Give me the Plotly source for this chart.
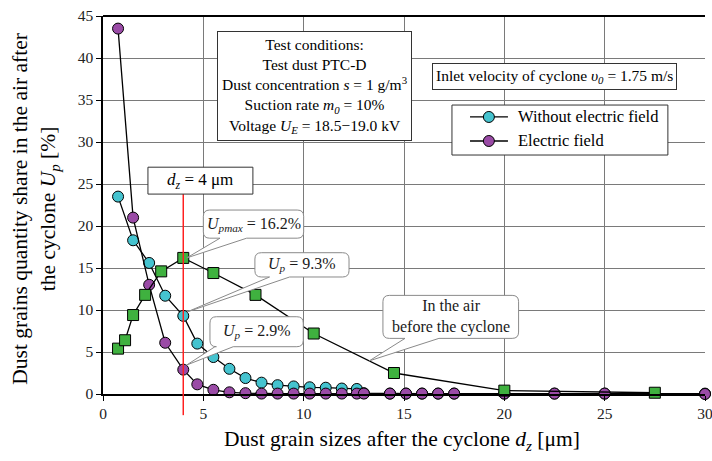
import numpy as np
import plotly.graph_objects as go

# Grain sizes d_z [µm] measured after the cyclone
sizes = [0.75, 1.5, 2.3, 3.1, 4.0, 4.7, 5.5, 6.3, 7.1, 7.9, 8.7, 9.5, 10.3,
         11.1, 11.9, 12.65, 13.0, 14.3, 15.1, 15.9, 16.7, 17.5, 20.0, 22.5, 25.0, 30.0]
# Share U_p [%] without electric field
without_field = [23.5, 18.3, 15.6, 11.7, 9.3, 6.0, 4.4, 3.0, 1.9, 1.35, 1.05, 0.9, 0.8,
                 0.75, 0.65, 0.6, 0.1, 0.05, 0.05, 0.05, 0.05, 0.05, 0.05, 0.05, 0.05, 0.05]
# Share U_p [%] with electric field
with_field = [43.5, 21.0, 13.0, 6.1, 2.9, 1.15, 0.5, 0.2, 0.1, 0.05, 0.05, 0.05, 0.05,
              0.05, 0.05, 0.05, 0.05, 0.05, 0.05, 0.05, 0.05, 0.05, 0.05, 0.05, 0.05, 0.0]
# Dust in the air before the cyclone
inlet_sizes = [0.75, 1.1, 1.5, 2.1, 2.9, 4.0, 5.5, 7.6, 10.5, 14.5, 20.0, 27.5]
inlet_share = [5.4, 6.4, 9.4, 11.8, 14.6, 16.2, 14.4, 11.8, 7.2, 2.5, 0.4, 0.15]

x_ticks = [0, 5, 10, 15, 20, 25, 30]
y_ticks = [0, 5, 10, 15, 20, 25, 30, 35, 40, 45]
d_marked = 4.0

FONT = "Liberation Serif, Times New Roman, serif"
CYAN = "#45C3CF"
PURPLE = "#9A4BA6"
GREEN = "#3FB13F"

series = [
    ("Without electric field", sizes, without_field, "circle", CYAN),
    ("Electric field", sizes, with_field, "circle", PURPLE),
    ("In the air before the cyclone", inlet_sizes, inlet_share, "square", GREEN),
]

fig = go.Figure()
for name, xs, ys, sym, col in series:
    fig.add_trace(go.Scatter(
        x=xs, y=ys, mode="lines+markers", name=name, showlegend=False,
        line=dict(color="black", width=1.3),
        marker=dict(symbol=sym, size=11, color=col, line=dict(color="black", width=1)),
        cliponaxis=False))


def callout_path(x0, x1, y0, y1, bx0, bx1, tx, ty, rx=0.32, ry=0.75):
    """Rounded box with a wedge pointer leaving from its bottom edge."""
    return (f"M{x0 + rx},{y0} L{bx0},{y0} L{tx},{ty} L{bx1},{y0} L{x1 - rx},{y0} "
            f"Q{x1},{y0} {x1},{y0 + ry} L{x1},{y1 - ry} Q{x1},{y1} {x1 - rx},{y1} "
            f"L{x0 + rx},{y1} Q{x0},{y1} {x0},{y1 - ry} L{x0},{y0 + ry} "
            f"Q{x0},{y0} {x0 + rx},{y0} Z")


i_max = int(np.argmax(inlet_share))
i_mark = sizes.index(d_marked)
up_max = inlet_share[i_max]
up_without = without_field[i_mark]
up_with = with_field[i_mark]

# pointer onto the inlet curve
t_x = 13.27
t_y = float(np.interp(t_x, inlet_sizes, inlet_share))

callouts = [
    # (box x0, x1, y0, y1, wedge base x0, x1, tip x, tip y, text)
    (5.0, 10.0, 18.55, 21.9, 5.83, 7.16, inlet_sizes[i_max] + 0.17, up_max,
     f"<i>U<sub>pmax</sub></i> = {up_max:.1f}%"),
    (7.57, 12.26, 13.93, 16.82, 8.3, 9.3, d_marked + 0.17, up_without + 0.45,
     f"<i>U<sub>p</sub></i> = {up_without:.1f}%"),
    (5.33, 9.98, 5.63, 9.2, 5.58, 6.49, d_marked + 0.17, up_with + 0.55,
     f"<i>U<sub>p</sub></i> = {up_with:.1f}%"),
    (13.95, 20.71, 6.62, 11.74, 15.05, 16.74, t_x, t_y,
     "In the air<br>before the cyclone"),
]

shapes = []
annotations = []
for x0, x1, y0, y1, bx0, bx1, tx, ty, txt in callouts:
    shapes.append(dict(type="path", xref="x", yref="y", layer="above",
                       path=callout_path(x0, x1, y0, y1, bx0, bx1, tx, ty),
                       line=dict(color="#8a8a8a", width=1), fillcolor="white"))
    annotations.append(dict(x=(x0 + x1) / 2, y=(y0 + y1) / 2, xref="x", yref="y",
                            xanchor="center", yanchor="middle",
                            text=txt, showarrow=False,
                            font=dict(family=FONT, size=16, color="#1a1a1a")))

# marker line at d_z = 4 µm and its label box
shapes.append(dict(type="line", xref="x", yref="paper", x0=d_marked, x1=d_marked,
                   y0=-0.056, y1=23.8 / 45, line=dict(color="#FF2020", width=1.5),
                   layer="above"))
shapes.append(dict(type="rect", xref="x", yref="y", x0=2.24, x1=7.47, y0=23.8, y1=27.0,
                   line=dict(color="#333333", width=1), fillcolor="white", layer="above"))
annotations.append(dict(x=(2.24 + 7.47) / 2, y=25.4, xref="x", yref="y",
                        xanchor="center", yanchor="middle",
                        text=f"<i>d<sub>z</sub></i> = {d_marked:g} μm", showarrow=False,
                        font=dict(family=FONT, size=17, color="black")))

# legend box drawn by hand: frame, line samples, marker samples, labels
leg_x0, leg_x1, leg_y0, leg_y1 = 17.39, 28.15, 28.45, 34.4
shapes.append(dict(type="rect", xref="x", yref="y", x0=leg_x0, x1=leg_x1,
                   y0=leg_y0, y1=leg_y1, line=dict(color="#333333", width=1),
                   fillcolor="white", layer="above"))
for (name, _, _, _, col), row_y in zip(series[:2], [32.98, 30.12]):
    shapes.append(dict(type="line", xref="x", yref="y", x0=18.29, x1=20.18,
                       y0=row_y, y1=row_y, line=dict(color="black", width=1.3),
                       layer="above"))
    shapes.append(dict(type="circle", xref="x", yref="y", xsizemode="pixel",
                       ysizemode="pixel", xanchor=19.23, yanchor=row_y,
                       x0=-5.5, x1=5.5, y0=-5.5, y1=5.5, fillcolor=col,
                       line=dict(color="black", width=1), layer="above"))
    annotations.append(dict(x=20.6, y=row_y, xref="x", yref="y", xanchor="left",
                            yanchor="middle", text=name, showarrow=False,
                            font=dict(family=FONT, size=16.5, color="black")))

# top frame line
shapes.append(dict(type="line", xref="paper", yref="paper", x0=0, x1=1, y0=1, y1=1,
                   line=dict(color="black", width=2), layer="above"))

annotations.append(dict(
    x=10.56, y=36.7, xref="x", yref="y", showarrow=False,
    xanchor="center", yanchor="middle",
    text=("Test conditions:<br>Test dust PTC-D<br>"
          "Dust concentration <i>s</i> = 1 g/m<sup>3</sup><br>"
          "Suction rate <i>m<sub>0</sub></i> = 10%<br>"
          "Voltage <i>U<sub>E</sub></i> = 18.5−19.0 kV"),
    font=dict(family=FONT, size=15.5, color="black"),
    bordercolor="#333333", borderwidth=1, borderpad=4, bgcolor="white"))
annotations.append(dict(
    x=22.52, y=37.74, xref="x", yref="y", showarrow=False,
    xanchor="center", yanchor="middle",
    text="Inlet velocity of cyclone <i>υ<sub>0</sub></i> = 1.75 m/s",
    font=dict(family=FONT, size=15.5, color="black"),
    bordercolor="#333333", borderwidth=1, borderpad=3, bgcolor="white"))

# axis titles
annotations.append(dict(
    x=-0.113, y=0.49, xref="paper", yref="paper", showarrow=False, textangle=-90,
    xanchor="center", yanchor="middle",
    text="Dust grains quantity share in the air after<br>the cyclone <i>U<sub>p</sub></i> [%]",
    font=dict(family=FONT, size=21.5, color="black")))
annotations.append(dict(
    x=0.497, y=-0.122, xref="paper", yref="paper", showarrow=False,
    xanchor="center", yanchor="middle",
    text="Dust grain sizes after the cyclone <i>d<sub>z</sub></i> [μm]",
    font=dict(family=FONT, size=21.5, color="black")))

fig.update_layout(
    width=712, height=461,
    margin=dict(l=103, r=7, t=16, b=67),
    paper_bgcolor="white", plot_bgcolor="white",
    font=dict(family=FONT, size=15, color="black"),
    shapes=shapes, annotations=annotations,
    showlegend=False,
)
axis_style = dict(ticks="outside", ticklen=5, tickcolor="black",
                  showline=True, linecolor="black", linewidth=1.5,
                  showgrid=True, gridcolor="#7a7a7a", gridwidth=1.2, zeroline=False,
                  ticklabeloverflow="allow", automargin=False,
                  tickfont=dict(family=FONT, size=15.5, color="#222222"))
fig.update_xaxes(range=[0, 30], tickvals=x_ticks, **axis_style)
fig.update_yaxes(range=[0, 45], tickvals=y_ticks, **axis_style)

fig.write_html("out.html")
